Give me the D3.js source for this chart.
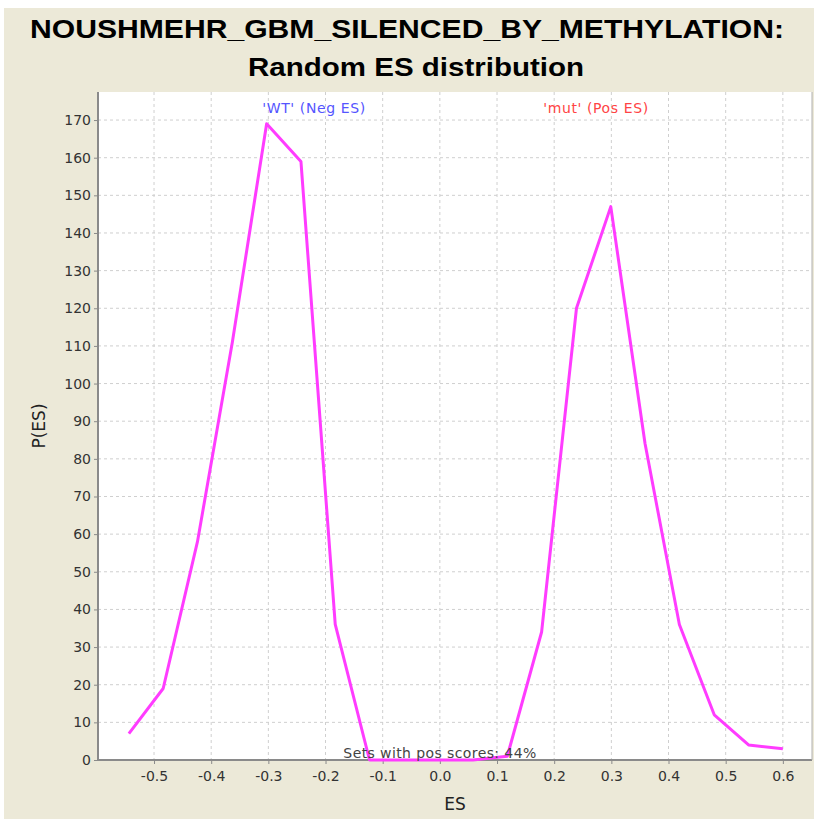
<!DOCTYPE html>
<html>
<head>
<meta charset="utf-8" />
<title>Random ES distribution</title>
<style>
html, body {
    margin: 0;
    padding: 0;
    background: #fff;
}
</style>
</head>
<body>
<div id="chart"></div>
<script src="https://d3js.org/d3.v7.min.js"></script>
<script>
// values
var esValues = [-0.544, -0.484, -0.424, -0.363, -0.303, -0.243, -0.183, -0.123, -0.062, -0.002,
                0.058, 0.118, 0.178, 0.239, 0.299, 0.359, 0.419, 0.480, 0.540, 0.600];
var pValues = [7, 19, 58, 111, 169, 159, 36, 0, 0, 0,
               0, 1, 34, 120, 147, 84, 36, 12, 4, 3];
var xTicks = [-0.5, -0.4, -0.3, -0.2, -0.1, 0.0, 0.1, 0.2, 0.3, 0.4, 0.5, 0.6];
var yTicks = [0, 10, 20, 30, 40, 50, 60, 70, 80, 90, 100, 110, 120, 130, 140, 150, 160, 170];
var titleLines = ["NOUSHMEHR_GBM_SILENCED_BY_METHYLATION:", "Random ES distribution"];

!(function(){
    "use strict"

    var width = 814, height = 823
    var plot = {left: 98, right: 812, top: 92, bottom: 760}
    var font = "'DejaVu Sans', Verdana, sans-serif"

    var svg = d3.select("#chart").append("svg")
        .attr("width", width)
        .attr("height", height)

    // beige panel
    svg.append("rect")
        .attr("x", 4).attr("y", 8)
        .attr("width", width - 4).attr("height", 811)
        .attr("fill", "#ece9d8")

    var x = d3.scaleLinear().domain([-0.598, 0.651]).range([plot.left, plot.right])
    var y = d3.scaleLinear().domain([0, 177.45]).range([plot.bottom, plot.top])

    svg.append("rect")
        .attr("x", plot.left).attr("y", plot.top)
        .attr("width", plot.right - plot.left)
        .attr("height", plot.bottom - plot.top)
        .attr("fill", "#fff")

    // grid
    var grid = svg.append("g").attr("stroke", "#cfcfcf").attr("stroke-dasharray", "3,3")
    grid.selectAll("line.gx").data(xTicks).enter().append("line")
        .attr("x1", function(d){ return x(d) }).attr("x2", function(d){ return x(d) })
        .attr("y1", plot.top).attr("y2", plot.bottom)
    grid.selectAll("line.gy").data(yTicks.slice(1)).enter().append("line")
        .attr("y1", function(d){ return y(d) }).attr("y2", function(d){ return y(d) })
        .attr("x1", plot.left).attr("x2", plot.right)

    // axes
    var xAxis = svg.append("g")
        .attr("transform", "translate(0," + plot.bottom + ")")
        .call(d3.axisBottom(x).tickValues(xTicks).tickSize(4).tickSizeOuter(0)
            .tickFormat(function(d){ return d.toFixed(1) }))
    var yAxis = svg.append("g")
        .attr("transform", "translate(" + plot.left + ",0)")
        .call(d3.axisLeft(y).tickValues(yTicks).tickSize(4).tickSizeOuter(0)
            .tickFormat(function(d){ return d }))

    ;[xAxis, yAxis].forEach(function(a){
        a.select(".domain").attr("stroke", "#8a8a8a").attr("stroke-width", 2)
        a.selectAll(".tick line").attr("stroke", "#8a8a8a")
        a.selectAll("text").attr("fill", "#333").attr("font-family", font).attr("font-size", "14px")
    })
    xAxis.selectAll("text").attr("dy", "1.0em")
    xAxis.select(".domain").attr("d", "M" + plot.left + ",0H" + plot.right)
    yAxis.select(".domain").attr("d", "M0," + plot.top + "V" + plot.bottom)

    // right border
    svg.append("line")
        .attr("x1", plot.right).attr("x2", plot.right)
        .attr("y1", plot.top).attr("y2", plot.bottom)
        .attr("stroke", "#b0b0b0")

    // the series
    var line = d3.line()
        .x(function(d){ return x(d[0]) })
        .y(function(d){ return y(d[1]) })
    svg.append("path")
        .datum(d3.zip(esValues, pValues))
        .attr("d", line)
        .attr("fill", "none")
        .attr("stroke", "#ff3cff")
        .attr("stroke-width", 3)
        .attr("stroke-linejoin", "round")

    // annotations
    svg.append("text")
        .attr("x", 314).attr("y", 113)
        .attr("text-anchor", "middle")
        .attr("font-family", font).attr("font-size", "14px")
        .attr("letter-spacing", "0.6px")
        .attr("fill", "#5555ff")
        .text("'WT' (Neg ES)")
    svg.append("text")
        .attr("x", 596).attr("y", 113)
        .attr("text-anchor", "middle")
        .attr("font-family", font).attr("font-size", "14px")
        .attr("letter-spacing", "0.6px")
        .attr("fill", "#ff4444")
        .text("'mut' (Pos ES)")
    svg.append("text")
        .attr("x", 440).attr("y", 758)
        .attr("text-anchor", "middle")
        .attr("font-family", font).attr("font-size", "14px")
        .attr("letter-spacing", "0.4px")
        .attr("fill", "#444")
        .text("Sets with pos scores: 44%")

    // axis titles
    svg.append("text")
        .attr("x", 455).attr("y", 810)
        .attr("text-anchor", "middle")
        .attr("font-family", font).attr("font-size", "17px")
        .attr("fill", "#222")
        .text("ES")
    svg.append("text")
        .attr("transform", "translate(45,426) rotate(-90)")
        .attr("text-anchor", "middle")
        .attr("font-family", font).attr("font-size", "17px")
        .attr("fill", "#222")
        .text("P(ES)")

    // title
    svg.append("text")
        .attr("x", 407).attr("y", 38)
        .attr("text-anchor", "middle")
        .attr("font-family", "'Liberation Sans', Arial, sans-serif")
        .attr("font-weight", "bold").attr("font-size", "25px")
        .attr("textLength", 754).attr("lengthAdjust", "spacingAndGlyphs")
        .text(titleLines[0])
    svg.append("text")
        .attr("x", 416).attr("y", 76)
        .attr("text-anchor", "middle")
        .attr("font-family", "'Liberation Sans', Arial, sans-serif")
        .attr("font-weight", "bold").attr("font-size", "25px")
        .attr("textLength", 336).attr("lengthAdjust", "spacingAndGlyphs")
        .text(titleLines[1])
}());
</script>
</body>
</html>
